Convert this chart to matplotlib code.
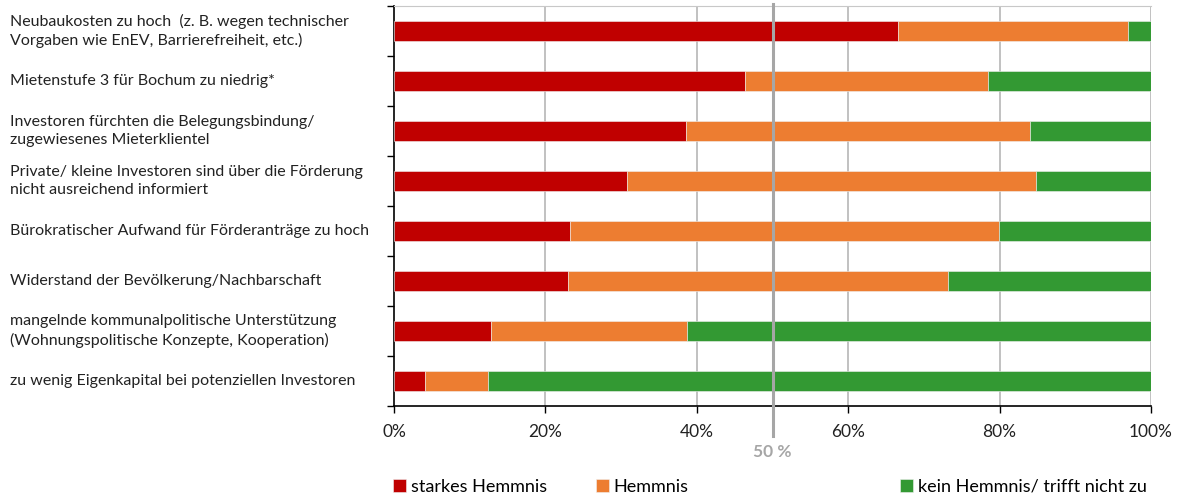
import numpy as np
import matplotlib.pyplot as plt
import matplotlib.transforms as mtransforms

plt.rcParams['font.family'] = ['Lato', 'DejaVu Sans']

categories = [
    "Neubaukosten zu hoch  (z. B. wegen technischer\nVorgaben wie EnEV, Barrierefreiheit, etc.)",
    "Mietenstufe 3 für Bochum zu niedrig*",
    "Investoren fürchten die Belegungsbindung/\nzugewiesenes Mieterklientel",
    "Private/ kleine Investoren sind über die Förderung\nnicht ausreichend informiert",
    "Bürokratischer Aufwand für Förderanträge zu hoch",
    "Widerstand der Bevölkerung/Nachbarschaft",
    "mangelnde kommunalpolitische Unterstützung\n(Wohnungspolitische Konzepte, Kooperation)",
    "zu wenig Eigenkapital bei potenziellen Investoren",
]
starkes = [66.6, 46.4, 38.6, 30.8, 23.2, 23.0, 12.8, 4.1]
hemmnis = [30.4, 32.1, 45.4, 54.0, 56.7, 50.2, 25.9, 8.3]
kein = [3.0, 21.5, 16.0, 15.2, 20.1, 26.8, 61.3, 87.6]
series_names = ["starkes Hemmnis", "Hemmnis", "kein Hemmnis/ trifft nicht zu"]
colors = ["#C00000", "#ED7D31", "#339933"]

fig = plt.figure(figsize=(11.81, 4.96), dpi=100)
ax = fig.add_axes([394 / 1181, 1 - 406 / 496, (1151 - 394) / 1181, 400 / 496])

y = np.arange(len(categories))
left = np.zeros(len(categories))
handles = []
for vals, name, c in zip([starkes, hemmnis, kein], series_names, colors):
    h = ax.barh(y, vals, left=left, height=0.4, color=c, edgecolor='#f0f0f0',
                linewidth=0.4, label=name, zorder=3)
    handles.append(h)
    left += np.array(vals)

ax.set_xlim(0, 100)
ax.set_ylim(len(categories) - 0.5, -0.5)

# gridlines
for gx in [20, 40, 60, 80, 100]:
    ax.axvline(gx, color='#b0b0b0', linewidth=1.1, zorder=1)
# 50% reference line
ax.axvline(50, ymin=-0.075, ymax=1.005, color='#a6a6a6', linewidth=2.2,
           zorder=4, clip_on=False)
ax.text(50, 1.0 - 452 / 400 + 6 / 400, "50 %", transform=ax.get_xaxis_transform(),
        ha='center', va='center', color='#a6a6a6', fontsize=12.5, fontweight='bold')

ax.set_xticks([0, 20, 40, 60, 80, 100])
ax.set_xticklabels(["0%", "20%", "40%", "60%", "80%", "100%"], fontsize=12.5, color='#222222')
ax.tick_params(axis='x', length=5, width=1, color='black', pad=8)

ax.set_yticks(np.arange(-0.5, len(categories), 1))
ax.set_yticklabels([])
ax.tick_params(axis='y', length=5, width=1, color='black', direction='out')

trans = mtransforms.blended_transform_factory(fig.transFigure, ax.transData)
for i, lab in enumerate(categories):
    ax.text(10 / 1181, y[i], lab, transform=trans,
            ha='left', va='center', fontsize=11.5, color='#222222',
            linespacing=1.4)

ax.spines['right'].set_visible(False)
ax.spines['top'].set_color('#c8c8c8')
ax.spines['left'].set_linewidth(1.2)
ax.spines['bottom'].set_linewidth(1.2)

legend_x = [388, 591, 895]
for h, name, lx in zip(handles, series_names, legend_x):
    fig.legend([h], [name], loc='center left', bbox_to_anchor=(lx / 1181, 1 - 487 / 496),
               frameon=False, fontsize=13, handlelength=0.7, handleheight=0.7,
               handletextpad=0.25, borderaxespad=0, borderpad=0.3)

fig.savefig('out.png', dpi=100)
